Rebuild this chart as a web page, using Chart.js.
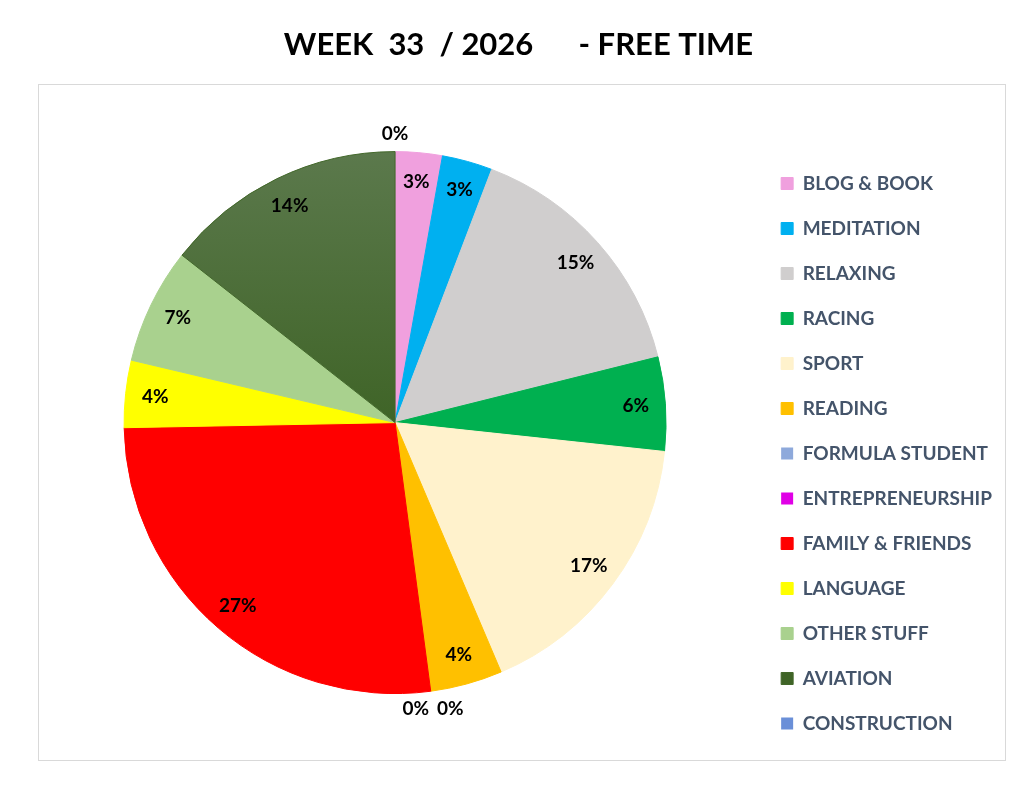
<!DOCTYPE html>
<html>
<head>
<meta charset="utf-8">
<title>Week 33 / 2026 - Free time</title>
<script src="https://cdn.jsdelivr.net/npm/chart.js@4.4.0/dist/chart.umd.min.js"></script>
<style>
  html, body { margin: 0; padding: 0; background: #fff; }
  #wrap { width: 1023px; height: 790px; }
</style>
</head>
<body>
<div id="wrap"><canvas id="myChart"></canvas></div>
<script>
// data (share of the week's free time, %)
const categories = [
  'BLOG & BOOK', 'MEDITATION', 'RELAXING', 'RACING', 'SPORT', 'READING',
  'FORMULA STUDENT', 'ENTREPRENEURSHIP', 'FAMILY & FRIENDS', 'LANGUAGE',
  'OTHER STUFF', 'AVIATION', 'CONSTRUCTION'
];
const shares = [2.8, 3.0, 15.3, 5.6, 16.9, 4.3, 0, 0, 26.8, 4.0, 6.9, 14.4, 0];
const sliceColors = [
  '#F0A0DE', '#00B0F0', '#D0CECE', '#00B050', '#FFF2CC', '#FFC000',
  '#8EA9DB', '#E000E6', '#FF0000', '#FFFF00', '#A9D18E', '#43682B', '#6A8FD8'
];
const titleText = 'WEEK  33  / 2026      - FREE TIME';

const ctx = document.getElementById('myChart');

// aviation slice has a light-to-dark fade in the original
function aviationFill(chart) {
  const area = chart.chartArea;
  if (!area) return sliceColors[11];
  const g = chart.ctx.createLinearGradient(0, area.top, 0, (area.top + area.bottom) / 2);
  g.addColorStop(0, '#627E55');
  g.addColorStop(1, '#3F6427');
  return g;
}

// grey frame round the plot area
const frame = {
  id: 'frame',
  beforeDraw(chart) {
    const c = chart.ctx;
    c.save();
    c.strokeStyle = '#D9D9D9';
    c.lineWidth = 1;
    c.strokeRect(38.5, 84.5, 967, 676);
    c.restore();
  }
};

// percentage labels, inside the slice end; empty slices get theirs outside
const pctLabels = {
  id: 'pctLabels',
  afterDatasetsDraw(chart) {
    const c = chart.ctx;
    const meta = chart.getDatasetMeta(0);
    const total = shares.reduce((a, b) => a + b, 0);
    c.save();
    c.font = 'bold 19px Lato';
    c.fillStyle = '#000';
    c.textAlign = 'center';
    c.textBaseline = 'middle';

    const labels = meta.data.map((arc, i) => {
      const p = arc.getProps(['x', 'y', 'startAngle', 'endAngle', 'outerRadius'], true);
      const mid = (p.startAngle + p.endAngle) / 2;
      const r = shares[i] > 0 ? p.outerRadius * 0.89 : p.outerRadius * 1.065;
      const text = Math.round(shares[i] / total * 100) + '%';
      return {
        text, mid, zero: shares[i] === 0,
        x: p.x + Math.cos(mid) * r,
        y: p.y + Math.sin(mid) * r,
        w: c.measureText(text).width
      };
    });

    // empty slices that share one angle are set side by side
    const done = new Set();
    labels.forEach((l, i) => {
      if (!l.zero || done.has(i)) return;
      const group = [];
      labels.forEach((m, j) => {
        if (m.zero && Math.abs(m.mid - l.mid) < 0.01) group.push(j);
      });
      const gap = 8;
      const full = group.reduce((s, j) => s + labels[j].w, 0) + gap * (group.length - 1);
      let x = l.x - full / 2;
      group.forEach(j => {
        labels[j].x = x + labels[j].w / 2;
        labels[j].y = l.y;
        x += labels[j].w + gap;
        done.add(j);
      });
    });

    labels.forEach(l => c.fillText(l.text, l.x, l.y));
    c.restore();
  }
};

new Chart(ctx, {
  type: 'pie',
  data: {
    labels: categories,
    datasets: [{
      data: shares,
      backgroundColor: (c) => c.dataIndex === 11 ? aviationFill(c.chart) : sliceColors[c.dataIndex],
      borderColor: sliceColors,
      borderWidth: (c) => shares[c.dataIndex] > 0 ? 1 : 0,
      radius: 271
    }]
  },
  options: {
    responsive: true,
    maintainAspectRatio: false,
    animation: false,
    layout: {
      padding: { left: 35, right: 21, top: 0, bottom: 31 }
    },
    plugins: {
      title: {
        display: true,
        text: titleText,
        color: '#000',
        font: { family: 'Lato', size: 31, weight: 'bold' },
        padding: { top: 26, bottom: 23 }
      },
      legend: {
        position: 'right',
        align: 'end',
        labels: {
          boxWidth: 12,
          boxHeight: 12,
          padding: 26,
          color: '#44546A',
          font: { family: 'Lato', size: 19, weight: 'bold' }
        }
      },
      tooltip: { enabled: false }
    }
  },
  plugins: [frame, pctLabels]
});
</script>
</body>
</html>
